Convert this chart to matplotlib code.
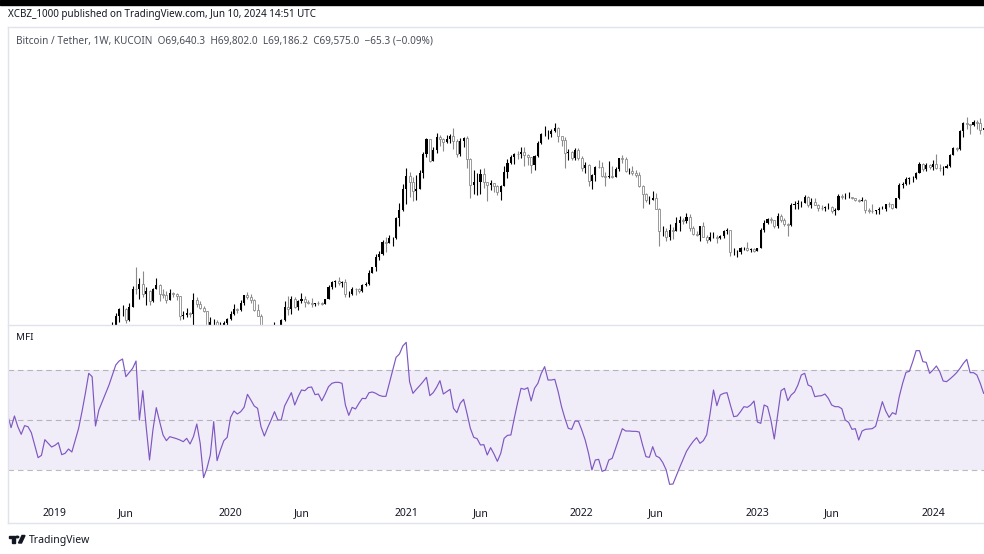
import numpy as np
import pandas as pd
import matplotlib
matplotlib.use('Agg')
import matplotlib.pyplot as plt
import matplotlib.dates as mdates
from matplotlib.patches import Rectangle, Polygon, Circle
from matplotlib.lines import Line2D

# weekly BTC/USDT candles (KUCOIN), first week starts Monday 2018-10-01
firstWeek = '2018-10-01'
firstOpen = 6600

closes = [
    # 2018 (from Oct)
    6580, 6350, 6450, 6420, 6420, 6400, 5600, 4000, 4100, 3550, 3250, 3950, 3850, 4050,
    # 2019
    3550, 3600, 3520, 3450, 3650, 3650, 3800, 3850, 3900, 4000,
    3990, 4100, 5050, 5050, 5300, 5200, 5750, 7250, 8000, 8700,
    8730, 7650, 8900, 10900, 10800, 11450, 10250, 10600, 9500, 10800,
    11400, 10300, 10150, 9600, 10400, 10300, 10000, 8050, 8150, 8300,
    8200, 9550, 9200, 8800, 8500, 7300, 7500, 7500, 7100, 7300,
    7400, 7750,
    # 2020
    8200, 8700, 8600, 9300, 10150, 9900, 9650, 8550, 8000, 5350,
    5800, 6250, 6900, 6900, 7150, 7700, 8900, 8700, 9700, 8900,
    9450, 9700, 9350, 9300, 9150, 9300, 9250, 9200, 9700, 11100,
    11680, 11900, 11650, 11700, 10250, 10300, 10900, 10800, 10600, 11380,
    11500, 13000, 13800, 15500, 16050, 18400, 18200, 19200, 19250, 23800,
    26300, 33000,
    # 2021
    38200, 35800, 32300, 33200, 39300, 48600, 57400, 45200, 51000, 59000,
    57500, 55800, 58000, 59800, 56200, 49100, 56600, 58300, 46400, 34700,
    35700, 35800, 39000, 35600, 34700, 35300, 34250, 31800, 34000, 39850,
    44400, 47100, 49000, 48800, 50000, 48300, 47300, 43200, 47700, 55000,
    60900, 61300, 61300, 63300, 65500, 59700, 57300, 49400, 50100, 46700,
    50800, 46450,
    # 2022
    41850, 43100, 36300, 38500, 42400, 42200, 38400, 37700, 38400, 37800,
    41300, 46800, 46400, 40400, 40400, 39500, 38500, 34300, 31300, 29400,
    29400, 29900, 26600, 20600, 20600, 19300, 20900, 20800, 22600, 23300,
    23200, 24300, 21500, 20000, 19800, 21800, 19400, 18800, 19300, 19400,
    19200, 19600, 20600, 21000, 16300, 16300, 16400, 17100, 17100, 16800,
    16850, 16600,
    # 2023
    17100, 20900, 22700, 23700, 23300, 21800, 24600, 23500, 22400, 22100,
    27600, 27900, 28200, 28300, 30300, 27800, 28500, 27700, 26900, 26750,
    27100, 27100, 25900, 26300, 30500, 30200, 30300, 30300, 29800, 29300,
    29050, 29300, 26100, 26000, 25850, 26100, 26600, 26600, 27950, 27900,
    26900, 29900, 34500, 35000, 37050, 37400, 37450, 39450, 43800, 41400,
    43000, 42280,
    # 2024
    43900, 41700, 41600, 42000, 42600, 48300, 52100, 51700, 63100, 68900,
    68300, 67200, 69700, 69300, 64000, 64900, 63100, 64000, 60800, 67000,
    69400, 67700, 69640.3, 69575.0,
]

highs = [
    6700, 6680, 7000, 6550, 6500, 6550, 6450, 5650, 4400, 4150, 3600, 4200, 4250, 4100,
    4100, 3750, 3680, 3580, 3700, 3720, 4200, 3900, 3950, 4050,
    4100, 4150, 5250, 5450, 5350, 5650, 5850, 7500, 8300, 8800,
    9100, 8800, 9300, 11200, 13900, 12300, 13200, 11100, 10700, 11000,
    12300, 11500, 10900, 10600, 10900, 10450, 10350, 10000, 8500, 8800,
    8400, 10400, 9900, 9500, 9000, 8500, 7900, 7800, 7700, 7500,
    7600, 7850,
    8500, 9200, 8800, 9600, 10200, 10500, 10300, 9700, 9200, 8200,
    6900, 6900, 7300, 7500, 7300, 7800, 9450, 10000, 10000, 9900,
    9600, 10400, 10000, 9600, 9800, 9300, 9450, 9350, 9750, 11400,
    11800, 12050, 12450, 11800, 12100, 10600, 11100, 11000, 10950, 11500,
    11750, 13350, 13900, 15950, 16500, 18800, 19400, 19900, 19400, 24200,
    28400, 34800,
    41950, 40100, 37850, 38500, 40900, 49700, 58300, 57500, 52600, 61800,
    60600, 58400, 60200, 61300, 64900, 57500, 58500, 59300, 59600, 46600,
    40900, 39500, 41300, 41600, 35700, 36600, 35500, 34600, 34500, 42600,
    46200, 48200, 49200, 50500, 52900, 52900, 48800, 47400, 48500, 56600,
    62000, 67000, 63700, 64300, 69000, 66300, 59800, 59100, 51900, 50600,
    52000, 52100,
    47500, 44500, 43500, 38900, 42600, 45800, 44700, 39800, 45400, 42600,
    42300, 46900, 48200, 47000, 41600, 42900, 40800, 40000, 34500, 31500,
    30600, 32300, 31700, 26900, 21900, 21500, 22500, 21600, 24200, 24600,
    24000, 25200, 25100, 21900, 20600, 21800, 22800, 19900, 20400, 20500,
    19900, 19700, 21000, 21500, 21000, 17200, 16800, 17400, 17400, 18400,
    17100, 17100,
    17200, 21400, 23400, 23900, 24300, 23400, 25300, 25100, 23900, 22600,
    28400, 28900, 29200, 28800, 31000, 30500, 30000, 29800, 28000, 27600,
    27500, 28400, 27300, 26800, 31400, 31400, 31500, 31800, 30400, 29900,
    29700, 30200, 29500, 26800, 28100, 26100, 27000, 27500, 28000, 28600,
    27900, 30000, 35200, 35900, 37900, 37900, 38400, 39900, 44500, 44000,
    44400, 43800,
    45900, 49000, 43500, 42900, 43900, 48600, 52800, 52900, 64000, 70000,
    73800, 68300, 71700, 71300, 72800, 66000, 67200, 64700, 65500, 67500,
    71900, 69500, 71900, 69802.0,
]

lows = [
    6500, 6150, 6350, 6400, 6250, 6350, 5150, 3700, 3550, 3250, 3150, 3200, 3600, 3700,
    3450, 3500, 3450, 3350, 3380, 3550, 3630, 3750, 3700, 3800,
    3950, 3950, 4100, 4950, 5000, 5050, 5150, 5750, 6600, 7500,
    8000, 7450, 7600, 8900, 10300, 9700, 9900, 9100, 9100, 9400,
    10800, 9500, 9800, 9300, 9600, 9950, 9600, 7700, 7750, 7900,
    7900, 7300, 8900, 8700, 8400, 6800, 6500, 7200, 7000, 6400,
    7100, 6900,
    7700, 8100, 8300, 8500, 9100, 9700, 9300, 8500, 8000, 3800,
    4500, 5700, 6000, 6800, 6500, 6800, 7600, 8100, 8200, 8800,
    8600, 9300, 8900, 9200, 8900, 8950, 9100, 9050, 9150, 9700,
    10900, 11100, 11400, 11100, 9900, 9900, 10200, 10100, 10400, 10500,
    11200, 11400, 12900, 13200, 15000, 15800, 16300, 18100, 17600, 19000,
    21800, 26000,
    28000, 30400, 28800, 29200, 32900, 37300, 47000, 44900, 45000, 49300,
    53200, 50300, 55000, 55500, 51500, 47000, 47500, 53000, 42000, 30000,
    31200, 31000, 31100, 33300, 28800, 32700, 32100, 31000, 29300, 34000,
    37300, 43800, 43900, 46400, 46500, 42800, 43300, 39600, 40800, 47000,
    54300, 59500, 57800, 59300, 62300, 55600, 53300, 42000, 45600, 45500,
    45500, 45700,
    40500, 39600, 34000, 32900, 36200, 41700, 38000, 34300, 37500, 37200,
    37600, 40500, 44100, 39800, 39200, 38500, 37700, 33700, 26700, 28600,
    28000, 29300, 26600, 17600, 19600, 18600, 18800, 18900, 20800, 20700,
    22500, 22700, 20800, 19800, 19600, 18500, 19400, 18100, 18500, 19200,
    18100, 18900, 19200, 20000, 15600, 15800, 15500, 16000, 16700, 16500,
    16300, 16300,
    16500, 17100, 20400, 22300, 22600, 21400, 21400, 22800, 21900, 19600,
    21900, 26600, 26600, 27200, 28200, 27100, 26900, 27700, 25800, 26300,
    25900, 26600, 25400, 24800, 26300, 29500, 29700, 29900, 29600, 28900,
    28600, 28800, 25200, 25400, 25300, 24900, 24900, 26400, 26000, 27200,
    26500, 26900, 29700, 33400, 34500, 34800, 35600, 37100, 39400, 40200,
    40500, 41300,
    40700, 41500, 40300, 38500, 41800, 42200, 48200, 50600, 50900, 59000,
    64500, 60800, 66600, 64500, 60700, 59600, 62800, 56500, 60200, 60700,
    66600, 66600, 67500, 69186.2,
]

# MFI(14), one value per week from the first week
mfi = [
    53, 45.4, 52.4, 46, 41.4, 46.6, 46, 42.4, 35, 27.4,
    28.8, 38.2, 36, 33.8, 34.8, 36.4, 29.2, 30, 32.6, 30.8,
    38, 45, 55, 66, 78, 76, 46.4, 56, 61, 66,
    71, 77, 83, 85.4, 86.6, 76, 78.5, 81, 85.4, 50,
    67.6, 46, 26, 44, 57.4, 49, 41, 37.6, 40, 39.4,
    38.8, 38, 37, 39, 35.6, 40, 47.6, 36, 15.4, 21,
    29, 49, 25.6, 32, 37.6, 39.6, 51.6, 55.4, 53.6, 55,
    57.6, 65.4, 62, 58.4, 57, 46, 40.4, 45.5, 50, 55,
    50, 50, 58.4, 62.4, 66.4, 59, 64, 68, 67.6, 69.5,
    69.8, 65.2, 65.6, 61.5, 65.5, 70, 72, 72.6,
    72.6, 72, 59, 52.8, 57.6, 56.6, 60, 63, 62.8, 66.4,
    66.8, 66, 64.8, 64.2, 64.2, 72, 80, 87.6, 89.6, 94.4,
    96.6, 73, 66, 68.4, 70.6, 73, 75.6, 64.6, 66.4, 69.6,
    73.6, 65.6, 67, 68.4, 57, 54.4, 60, 62.4, 54, 45,
    39.6, 38.8, 35, 35.2, 29, 33.4, 29.6, 25.2, 30, 39,
    40.8, 41, 51, 60.4, 69, 68.4, 69.4, 61.4, 69, 72,
    78, 82, 74, 74, 74.4, 67, 58, 51, 45, 44.4,
    49.4, 49.2, 44, 38, 30, 20, 26, 26.4, 19.2, 20,
    26, 27, 33, 39, 44.8, 43.4, 43.4, 43.2, 43.2, 42.8,
    35, 28, 27.6, 34, 28.4, 27.4, 24.4, 20,
    11.4, 11.6, 16.6, 21.6, 26.4, 31.2, 34.4, 37.2, 39.4, 36,
    37.6, 41.2, 54, 68, 58.6, 65, 66, 66.4, 59, 52,
    52.4, 55, 58, 57.6, 59, 61.4, 48.8, 48, 59, 58,
    50, 38.6, 53, 67.6, 69, 61.6, 65, 66.8, 71, 77,
    78, 71, 70, 64, 64.4, 64.6, 65.6, 63, 59, 58,
    58, 56.8, 50, 48.6, 44.4, 44.8, 38, 43.4, 44.4, 44.6,
    44.8, 46.2, 53.6, 61, 55.4, 51.6, 54.4, 53.4, 64, 72,
    78.6, 79.2, 85, 91.6, 91.6, 85, 84.6, 78, 80, 82.4,
    79, 73.4, 73, 74.6, 76.4, 78.4, 81, 84, 86.4, 78.4,
    78.4, 77, 72, 66,
]

tickDates = ['2019-01-07', '2019-06-03', '2020-01-06', '2020-06-01', '2021-01-04',
             '2021-06-07', '2022-01-03', '2022-06-06', '2023-01-02', '2023-06-05',
             '2024-01-01']
tickLabels = ['2019', 'Jun', '2020', 'Jun', '2021', 'Jun', '2022', 'Jun', '2023', 'Jun', '2024']

headerText = 'XCBZ_1000 published on TradingView.com, Jun 10, 2024 14:51 UTC'
legendText = ('Bitcoin / Tether, 1W, KUCOIN  O69,640.3  H69,802.0  L69,186.2  '
              'C69,575.0  \u221265.3 (\u22120.09%)')

W, H = 984, 554

def box(x0, y0, x1, y1):
    # pixel box from the top-left corner -> figure fraction rect
    return [x0 / W, 1 - y1 / H, (x1 - x0) / W, (y1 - y0) / H]

def fp(x, y):
    return (x / W, 1 - y / H)

plt.rcParams['font.family'] = ['Noto Sans', 'DejaVu Sans']
fig = plt.figure(figsize=(W / 100, H / 100), dpi=100)
fig.patch.set_facecolor('white')

axPrice = fig.add_axes(box(8, 27, 984, 325))
axMfi = fig.add_axes(box(8, 325, 984, 497), sharex=axPrice)

weeks = pd.date_range(firstWeek, periods=len(closes), freq='7D')
x = mdates.date2num(weeks)
c = np.array(closes, float)
o = np.concatenate([[firstOpen], c[:-1]])
h = np.array(highs, float)
l = np.array(lows, float)
up = c >= o
dn = ~up

upCol = '#000000'
dnCol = '#8a8a8a'
axPrice.vlines(x[up], l[up], h[up], color=upCol, lw=0.8, zorder=2)
axPrice.vlines(x[dn], l[dn], h[dn], color=dnCol, lw=0.8, zorder=2)
axPrice.bar(x[up], c[up] - o[up], bottom=o[up], width=4.4, color=upCol, lw=0, zorder=3)
axPrice.bar(x[dn], o[dn] - c[dn], bottom=c[dn], width=4.2, facecolor='white',
            edgecolor=dnCol, lw=0.6, zorder=3)
axPrice.set_yscale('log')
axPrice.set_ylim(7265, 201000)

# MFI pane
xm = x[:len(mfi)]
axMfi.axhspan(20, 80, color='#7E57C2', alpha=0.1, lw=0)
for lvl in [80, 50, 20]:
    axMfi.axhline(lvl, color='#787B86', alpha=0.5, lw=0.8, ls=(0, (5, 3.5)))
axMfi.plot(xm, mfi, color='#7E57C2', lw=0.85)
axMfi.set_ylim(3.8, 107)

start = weeks[0]
axPrice.set_xlim(mdates.date2num(start + pd.Timedelta(days=0.09 * 7)),
                 mdates.date2num(start + pd.Timedelta(days=289.1 * 7)))

for ax in [axPrice, axMfi]:
    for s in ax.spines.values():
        s.set_visible(False)
    ax.set_facecolor('none')
    ax.tick_params(which='both', left=False, labelleft=False, bottom=False, labelbottom=False)
    ax.yaxis.set_minor_locator(matplotlib.ticker.NullLocator())
    ax.set_yticks([])

axMfi.set_xticks(mdates.date2num(pd.to_datetime(tickDates)))
axMfi.set_xticklabels(tickLabels)
axMfi.tick_params(axis='x', bottom=False, labelbottom=True, length=0, pad=8,
                  labelsize=7.5, labelcolor='#131722')
for t in axMfi.get_xticklabels():
    if t.get_text() != 'Jun':
        t.set_fontweight('bold')

# frame and separators
grid = '#e0e3eb'
fig.add_artist(Line2D([8 / W, 1], [1 - 27 / H] * 2, color=grid, lw=1))
fig.add_artist(Line2D([8 / W, 1], [1 - 325 / H] * 2, color=grid, lw=1))
fig.add_artist(Line2D([8 / W, 1], [1 - 523 / H] * 2, color=grid, lw=1))
fig.add_artist(Line2D([8 / W, 8 / W], [1 - 27 / H, 1 - 523 / H], color=grid, lw=1))
fig.add_artist(Rectangle((0, 1 - 5 / H), 1, 5 / H, color='black', transform=fig.transFigure))

fig.text(*fp(8, 15), headerText, fontsize=7.1, color='#131722', va='center')
fig.text(*fp(16, 41), legendText, fontsize=7.2, color='#4a4e59', va='center')
fig.text(*fp(16, 338), 'MFI', fontsize=7, color='#131722', va='center')

# TradingView logo
logo = '#131722'
fig.add_artist(Polygon([fp(8.5, 535.5), fp(15, 535.5), fp(15, 543), fp(12, 543),
                        fp(12, 538.3), fp(8.5, 538.3)], closed=True, color=logo,
                       transform=fig.transFigure))
fig.add_artist(Circle(fp(17.3, 537), 1.4 / W, color=logo, transform=fig.transFigure))
fig.add_artist(Polygon([fp(18.5, 543), fp(21.5, 543), fp(25, 535.5), fp(22, 535.5)],
                       closed=True, color=logo, transform=fig.transFigure))
fig.text(*fp(29, 540), 'TradingView', fontsize=7.5, color='#131722', va='center')

fig.savefig('out.png', dpi=100)
